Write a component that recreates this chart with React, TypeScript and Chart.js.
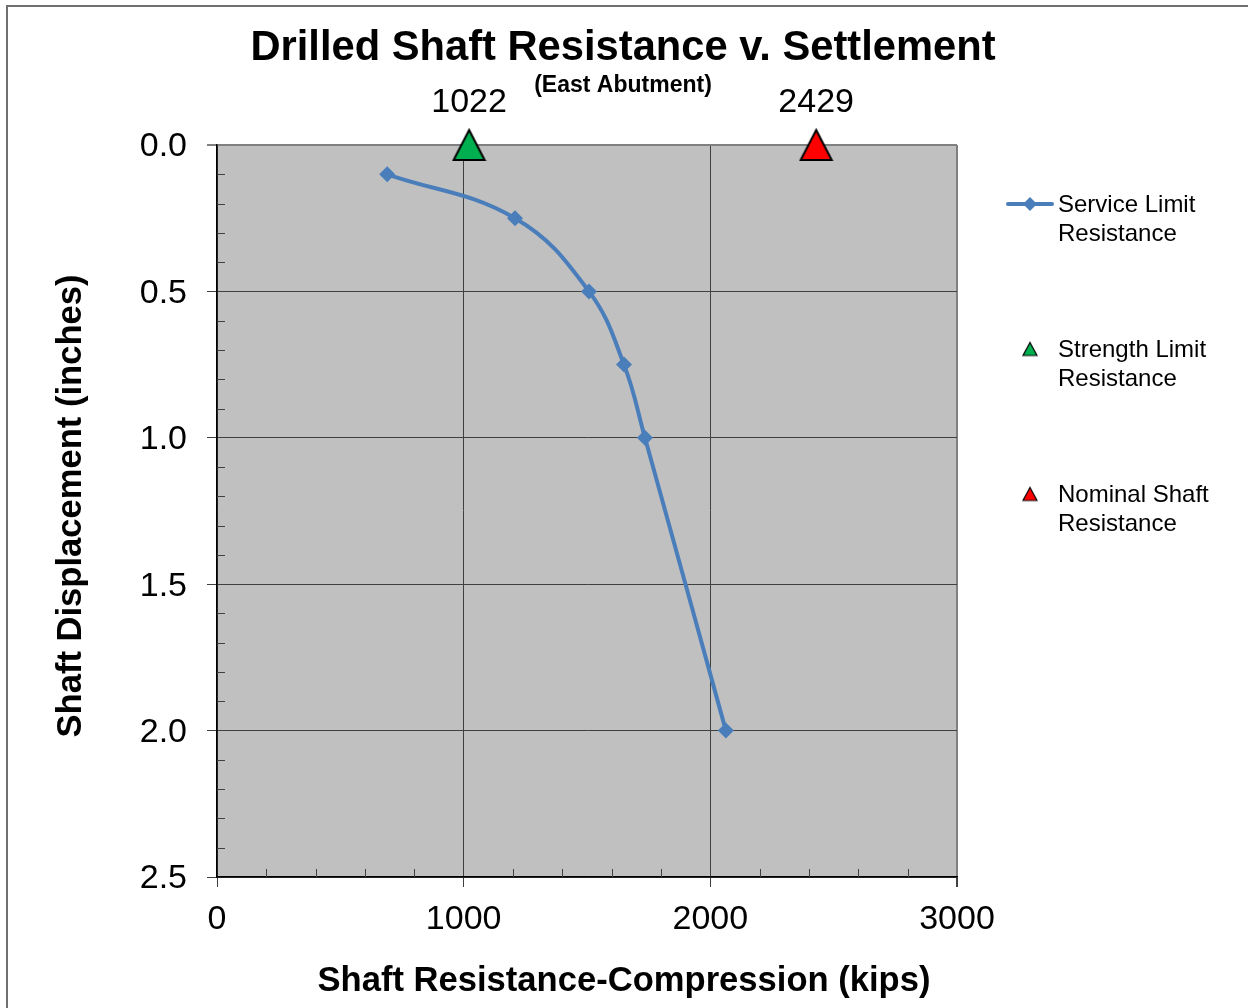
import React, { useEffect, useRef } from "react";
import { Chart, registerables } from "chart.js";

Chart.register(...registerables);

// ---- data ----
const serviceX = [690, 1208, 1508, 1650, 1735, 2063];
const serviceY = [0.1, 0.25, 0.5, 0.75, 1.0, 2.0];
const strengthX = [1022];
const strengthY = [0];
const nominalX = [2429];
const nominalY = [0];
const xMin = 0;
const xMax = 3000;
const xStep = 1000;
const xMinorStep = 200;
const yMin = 0;
const yMax = 2.5;
const yStep = 0.5;
const yMinorStep = 0.1;
const titleText = "Drilled Shaft Resistance v. Settlement";
const subtitleText = "(East Abutment)";
const xTitle = "Shaft Resistance-Compression (kips)";
const yTitle = "Shaft Displacement (inches)";
const legendLabels = [
  ["Service Limit", "Resistance"],
  ["Strength Limit", "Resistance"],
  ["Nominal Shaft", "Resistance"],
];

const FONT = "'Liberation Sans', Arial, sans-serif";
const BLUE = "#4A7EBB";
const GREEN = "#00B050";
const RED = "#FF0000";

function makeTriangle(fill: string, w: number, h: number, lw: number) {
  const c = document.createElement("canvas");
  c.width = w + 4;
  c.height = h + 4;
  const ctx = c.getContext("2d")!;
  ctx.beginPath();
  ctx.moveTo(c.width / 2, 2);
  ctx.lineTo(c.width - 2, c.height - 2);
  ctx.lineTo(2, c.height - 2);
  ctx.closePath();
  ctx.fillStyle = fill;
  ctx.fill();
  ctx.lineWidth = lw;
  ctx.lineJoin = "miter";
  ctx.strokeStyle = "#000";
  ctx.stroke();
  return c;
}

export default function App() {
  const ref = useRef<HTMLCanvasElement | null>(null);

  useEffect(() => {
    const canvas = ref.current!;
    const greenTri = makeTriangle(GREEN, 31, 30, 2);
    const redTri = makeTriangle(RED, 31, 30, 2);
    const greenSmall = makeTriangle(GREEN, 14, 13, 1.2);
    const redSmall = makeTriangle(RED, 14, 13, 1.2);

    const bgPlugin = {
      id: "bg",
      beforeDraw(chart: any) {
        const { ctx, chartArea: a } = chart;
        ctx.save();
        ctx.fillStyle = "#C0C0C0";
        ctx.fillRect(a.left, a.top, a.right - a.left, a.bottom - a.top);
        ctx.restore();
      },
    };

    const minorPlugin = {
      id: "minor",
      beforeDatasetsDraw(chart: any) {
        const { ctx, chartArea: a, scales } = chart;
        ctx.save();
        ctx.strokeStyle = "#404040";
        ctx.lineWidth = 1;
        ctx.beginPath();
        const ny = Math.round((yMax - yMin) / yMinorStep);
        for (let i = 1; i < ny; i++) {
          const v = yMin + i * yMinorStep;
          if (Math.abs(v / yStep - Math.round(v / yStep)) < 1e-6) continue;
          const y = Math.round(scales.y.getPixelForValue(v)) + 0.5;
          ctx.moveTo(a.left, y);
          ctx.lineTo(a.left + 8, y);
        }
        const nx = Math.round((xMax - xMin) / xMinorStep);
        for (let i = 1; i < nx; i++) {
          const v = xMin + i * xMinorStep;
          if (v % xStep === 0) continue;
          const x = Math.round(scales.x.getPixelForValue(v)) + 0.5;
          ctx.moveTo(x, a.bottom);
          ctx.lineTo(x, a.bottom - 8);
        }
        ctx.stroke();
        ctx.restore();
      },
    };

    const labelPlugin = {
      id: "pointLabels",
      afterDatasetsDraw(chart: any) {
        const { ctx } = chart;
        ctx.save();
        ctx.font = `34px ${FONT}`;
        ctx.fillStyle = "#000";
        ctx.textAlign = "center";
        ctx.textBaseline = "middle";
        [1, 2].forEach((di) => {
          const meta = chart.getDatasetMeta(di);
          const ds = chart.data.datasets[di];
          meta.data.forEach((pt: any, i: number) => {
            ctx.fillText(String(ds.data[i].x), pt.x, pt.y - 42);
          });
        });
        ctx.restore();
      },
    };

    const decoPlugin = {
      id: "deco",
      afterDraw(chart: any) {
        const { ctx } = chart;
        ctx.save();
        ctx.fillStyle = "#000";
        ctx.textAlign = "center";
        ctx.textBaseline = "middle";
        ctx.font = `bold 41.7px ${FONT}`;
        ctx.fillText(titleText, 623, 49);
        ctx.font = `bold 23px ${FONT}`;
        ctx.fillText(subtitleText, 623, 86);

        // axis titles
        ctx.font = `bold 34.6px ${FONT}`;
        ctx.fillText(xTitle, 624, 981);
        ctx.save();
        ctx.translate(71, 506);
        ctx.rotate(-Math.PI / 2);
        ctx.fillText(yTitle, 0, 0);
        ctx.restore();

        // legend
        const ys = [205, 350, 495];
        ctx.textAlign = "left";
        ctx.font = `24px ${FONT}`;
        legendLabels.forEach((lines, i) => {
          lines.forEach((t, j) => {
            ctx.fillText(t, 1058, ys[i] + j * 29);
          });
        });
        // service line sample
        const ly = 204;
        ctx.strokeStyle = BLUE;
        ctx.lineWidth = 4;
        ctx.lineCap = "round";
        ctx.beginPath();
        ctx.moveTo(1008, ly);
        ctx.lineTo(1052, ly);
        ctx.stroke();
        ctx.fillStyle = BLUE;
        ctx.beginPath();
        ctx.moveTo(1030, ly - 7);
        ctx.lineTo(1037, ly);
        ctx.lineTo(1030, ly + 7);
        ctx.lineTo(1023, ly);
        ctx.closePath();
        ctx.fill();
        ctx.drawImage(greenSmall, 1030 - greenSmall.width / 2, 349 - greenSmall.height / 2);
        ctx.drawImage(redSmall, 1030 - redSmall.width / 2, 494 - redSmall.height / 2);
        ctx.restore();
      },
    };

    const gridColor = (edgeValue: number) => (c: any) =>
      c.tick && Math.abs(c.tick.value - edgeValue) < 1e-9 ? "#808080" : "#404040";
    const gridWidth = (edgeValue: number) => (c: any) =>
      c.tick && Math.abs(c.tick.value - edgeValue) < 1e-9 ? 2 : 1;

    const chart = new Chart(canvas, {
      type: "scatter",
      data: {
        datasets: [
          {
            label: "Service Limit Resistance",
            data: serviceX.map((x, i) => ({ x, y: serviceY[i] })),
            showLine: true,
            borderColor: BLUE,
            backgroundColor: BLUE,
            borderWidth: 4,
            tension: 0.4,
            pointStyle: "rectRot",
            pointRadius: 8,
            pointBorderWidth: 0,
            pointBackgroundColor: BLUE,
          },
          {
            label: "Strength Limit Resistance",
            data: strengthX.map((x, i) => ({ x, y: strengthY[i] })),
            pointStyle: greenTri as any,
            clip: false as any,
          },
          {
            label: "Nominal Shaft Resistance",
            data: nominalX.map((x, i) => ({ x, y: nominalY[i] })),
            pointStyle: redTri as any,
            clip: false as any,
          },
        ],
      },
      options: {
        responsive: false,
        animation: false,
        devicePixelRatio: 1,
        layout: { padding: { top: 145, right: 291, left: 0, bottom: 0 } },
        plugins: {
          legend: { display: false },
          title: { display: false },
          tooltip: { enabled: false },
        },
        scales: {
          x: {
            type: "linear",
            min: xMin,
            max: xMax,
            afterFit(s: any) {
              s.height = 131;
            },
            ticks: {
              stepSize: xStep,
              padding: 12,
              color: "#000",
              font: { family: FONT, size: 34 },
              maxRotation: 0,
              callback: (v: any) => String(v),
            },
            grid: {
              color: gridColor(xMax),
              lineWidth: gridWidth(xMax),
              tickColor: "#404040",
              tickLength: 10,
            },
            border: { display: true, color: "#000", width: 1.5 },
            title: { display: false },
          },
          y: {
            type: "linear",
            reverse: true,
            min: yMin,
            max: yMax,
            afterFit(s: any) {
              s.width = 217;
            },
            ticks: {
              stepSize: yStep,
              padding: 20,
              labelOffset: 2,
              color: "#000",
              font: { family: FONT, size: 34 },
              callback: (v: any) => Number(v).toFixed(1),
            },
            grid: {
              color: gridColor(yMin),
              lineWidth: gridWidth(yMin),
              tickColor: gridColor(yMin),
              tickLength: 10,
            },
            border: { display: true, color: "#000", width: 1.5 },
            title: { display: false },
          },
        },
      },
      plugins: [bgPlugin, minorPlugin, labelPlugin, decoPlugin],
    } as any);

    return () => chart.destroy();
  }, []);

  return (
    <div style={{ position: "absolute", left: 0, top: 0, width: 1248, height: 1008, overflow: "hidden", background: "#fff" }}>
      <div
        style={{
          position: "absolute",
          left: 6,
          top: 5,
          width: 1260,
          height: 1020,
          borderTop: "2px solid #707070",
          borderLeft: "2px solid #707070",
        }}
      />
      <canvas ref={ref} width={1248} height={1008} style={{ position: "absolute", left: 0, top: 0, width: 1248, height: 1008 }} />
    </div>
  );
}
